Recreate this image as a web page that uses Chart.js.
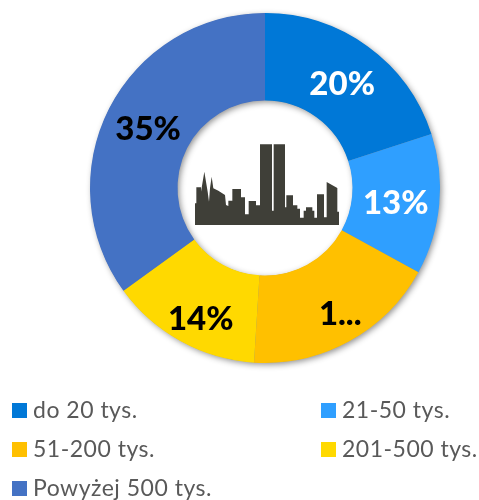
<!DOCTYPE html>
<html><head><meta charset="utf-8">
<style>
html,body{margin:0;padding:0;background:#fff;overflow:hidden}
#wrap{position:relative;width:479px;height:500px}
canvas{position:absolute;left:0;top:0}
.lg{position:absolute;font:23px Lato,Carlito,sans-serif;color:#595959;line-height:26px;white-space:nowrap;letter-spacing:.5px}
.lg i{position:absolute;left:-21px;top:7px;width:15px;height:15px}
</style>
<script src="https://cdn.jsdelivr.net/npm/chart.js@4/dist/chart.umd.min.js"></script>
</head><body><div id="wrap"><canvas id="c" width="479" height="500"></canvas></div>
<script>
const categories = ["do 20 tys.","21-50 tys.","51-200 tys.","201-500 tys.","Powyżej 500 tys."];
const values = [20,13,18,14,35];
const valueLabels = ["20%","13%","1...","14%","35%"];
const sliceColors = ["#0078d7","#2f9fff","#ffc000","#ffd900","#4472c4"];
const labelColors = ["#fff","#fff","#000","#000","#000"];
const labelNudges = [[0,3],[0,3],[12,11],[-1,16],[0,1]];
const skyline = [75,315,75,250,79,250,79,202,93,202,93,215,103,155,113,215,117,245,120,205,125,170,130,205,145,212,165,225,168,255,175,258,175,242,187,242,187,207,213,207,213,232,225,232,225,283,236,283,236,243,258,243,258,256,270,256,270,73,306,73,306,272,311,272,311,73,345,73,345,262,349,262,349,226,369,226,369,256,382,256,382,266,390,266,390,293,401,293,401,272,408,272,408,262,427,262,427,272,433,272,433,293,441,293,441,223,462,223,462,292,470,292,470,186,502,204,502,275,507,275,507,315];

const ringShadow = {
  id:"ringShadow",
  beforeDatasetsDraw(chart){
    const a = chart.getDatasetMeta(0).data[0], ctx = chart.ctx;
    ctx.save();
    ctx.shadowColor = "rgba(0,0,0,.45)";
    ctx.shadowBlur = 6; ctx.shadowOffsetX = 2; ctx.shadowOffsetY = 2;
    ctx.fillStyle = "#888";
    ctx.beginPath();
    ctx.arc(a.x,a.y,a.outerRadius-.5,0,Math.PI*2);
    ctx.arc(a.x,a.y,a.innerRadius+.5,Math.PI*2,0,true);
    ctx.fill();
    ctx.restore();
  }
};
const overlay = {
  id:"overlay",
  afterDatasetsDraw(chart){
    const ctx = chart.ctx, meta = chart.getDatasetMeta(0);
    ctx.save();
    ctx.font = "900 33px Lato,Carlito,sans-serif";
    ctx.textAlign = "center"; ctx.textBaseline = "middle";
    meta.data.forEach((arc,i)=>{
      const p = arc.tooltipPosition();
      ctx.fillStyle = labelColors[i];
      ctx.fillText(valueLabels[i], p.x+labelNudges[i][0], p.y+labelNudges[i][1]);
    });
    ctx.restore();
    const c = meta.data[0];
    ctx.save();
    ctx.translate(c.x-95, c.y-68);
    ctx.scale(1/3,1/3);
    ctx.fillStyle = "#3f3f38";
    ctx.beginPath();
    for(let i=0;i<skyline.length;i+=2){
      if(i===0) ctx.moveTo(skyline[i],skyline[i+1]); else ctx.lineTo(skyline[i],skyline[i+1]);
    }
    ctx.closePath(); ctx.fill();
    ctx.restore();
  }
};
new Chart(document.getElementById("c"),{
  type:"doughnut",
  data:{labels:categories,datasets:[{data:values,backgroundColor:sliceColors,borderWidth:0,hoverOffset:0}]},
  options:{
    responsive:false,animation:false,cutout:"50%",
    layout:{padding:{left:90,right:39,top:13,bottom:137}},
    plugins:{legend:{display:false},tooltip:{enabled:false}}
  },
  plugins:[ringShadow,overlay]
});
const slots=[[33,396],[342,396],[33,435],[342,435],[33,474]];
categories.forEach((t,i)=>{
  const d=document.createElement("div");d.className="lg";
  d.style.left=slots[i][0]+"px";d.style.top=slots[i][1]+"px";
  d.textContent=t;
  const k=document.createElement("i");k.style.background=sliceColors[i];d.appendChild(k);
  document.getElementById("wrap").appendChild(d);
});
</script></body></html>
